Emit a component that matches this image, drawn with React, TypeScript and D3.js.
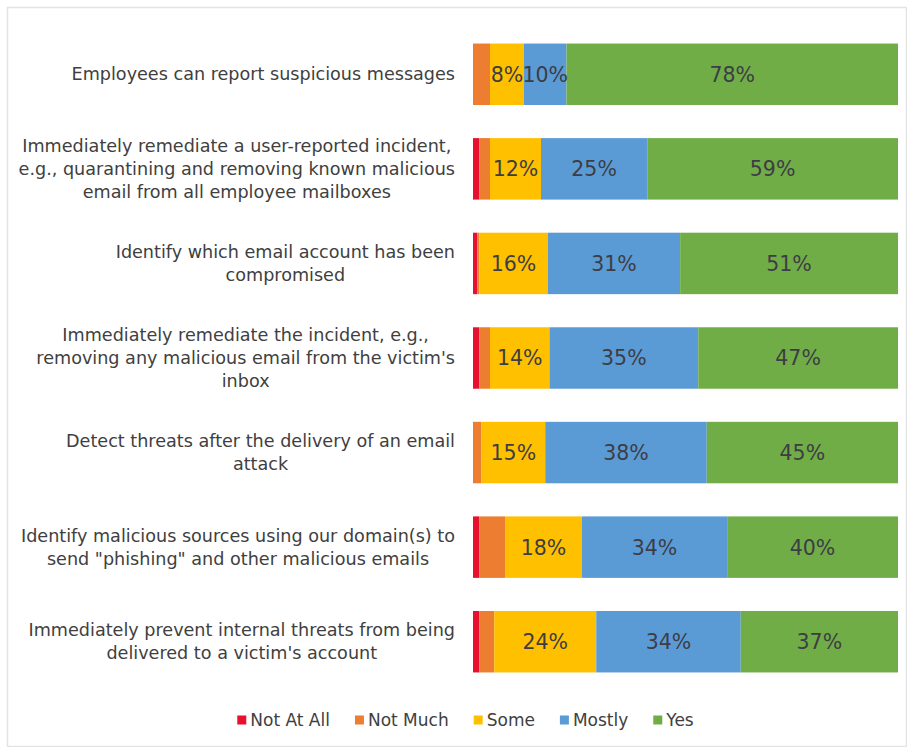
import React from "react";
import * as d3 from "d3";

const categories: string[][] = [
  ["Employees can report suspicious messages"],
  ["Immediately remediate a user-reported incident,", "e.g., quarantining and removing known malicious", "email from all employee mailboxes"],
  ["Identify which email account has been", "compromised"],
  ["Immediately remediate the incident, e.g.,", "removing any malicious email from the victim's", "inbox"],
  ["Detect threats after the delivery of an email", "attack"],
  ["Identify malicious sources using our domain(s) to", "send \"phishing\" and other malicious emails"],
  ["Immediately prevent internal threats from being", "delivered to a victim's account"],
];

const seriesNames = ["Not At All", "Not Much", "Some", "Mostly", "Yes"];
const notAtAll = [0, 1.5, 1, 1.5, 0, 1.5, 1.5];
const notMuch = [4, 2.5, 0.5, 2.5, 2, 6, 3.5];
const some = [8, 12, 16, 14, 15, 18, 24];
const mostly = [10, 25, 31, 35, 38, 34, 34];
const yes = [78, 59, 51, 47, 45, 40, 37];
const labelledSeries = ["Some", "Mostly", "Yes"];

const colors = ["#E8112D", "#ED7D31", "#FFC000", "#5B9BD5", "#70AD47"];

const W = 907;
const H = 747;
const FAMILY = "'DejaVu Sans', sans-serif";
const FS = 17.6;
const LEGEND_FS = 17;

function measure(text: string, size: number): number {
  const c = document.createElement("canvas").getContext("2d");
  if (!c) return text.length * size * 0.55;
  c.font = `${size}px 'DejaVu Sans', sans-serif`;
  return c.measureText(text).width;
}

export default function App() {
  const rows = categories.map((c, i) => ({
    key: String(i),
    "Not At All": notAtAll[i],
    "Not Much": notMuch[i],
    Some: some[i],
    Mostly: mostly[i],
    Yes: yes[i],
  }));
  const stacked = d3.stack<any>().keys(seriesNames).offset(d3.stackOffsetExpand)(rows);

  const x = d3.scaleLinear().domain([0, 1]).range([473, 898]);
  const y = d3.scaleBand().domain(rows.map((r) => r.key)).range([27, 689]).paddingInner(0.35).paddingOuter(0.175);

  const labelRight = 455;
  const lineH = 23;

  // legend layout
  const legendY = 720;
  const markerSize = 9;
  const legendItems: { name: string; color: string; x: number }[] = [];
  {
    const gap = 24;
    const widths = seriesNames.map((n) => markerSize + 5 + measure(n, LEGEND_FS));
    const total = widths.reduce((a, b) => a + b, 0) + gap * (widths.length - 1);
    let cx = 466 - total / 2;
    seriesNames.forEach((n, i) => {
      legendItems.push({ name: n, color: colors[i], x: cx });
      cx += widths[i] + gap;
    });
  }

  return (
    <div style={{ position: "absolute", left: 0, top: 0 }}>
      <svg width={W} height={H} style={{ display: "block", background: "#fff" }}>
        <rect x={7.5} y={7.5} width={W - 8} height={H - 8} fill="#fff" stroke="#e3e3e3" strokeWidth={1.5} />
        {categories.map((lines, i) => {
          const cy = (y(String(i)) as number) + y.bandwidth() / 2;
          const maxW = Math.max(...lines.map((l) => measure(l, FS)));
          const cx = labelRight - maxW / 2;
          const top = cy - ((lines.length - 1) * lineH) / 2;
          return (
            <text key={i} x={cx} textAnchor="middle" fontFamily={FAMILY} fontSize={FS} fill="#404040">
              {lines.map((l, j) => (
                <tspan key={j} x={cx} y={top + j * lineH} dy="0.35em">
                  {l}
                </tspan>
              ))}
            </text>
          );
        })}
        {stacked.map((s, si) => (
          <g key={s.key} fill={colors[si]}>
            {s.map((d, i) => (
              <rect
                key={i}
                x={x(d[0])}
                y={y(String(i))}
                width={Math.max(0, x(d[1]) - x(d[0]))}
                height={y.bandwidth()}
              />
            ))}
          </g>
        ))}
        {stacked
          .filter((s) => labelledSeries.includes(s.key))
          .map((s) => (
            <g key={"l" + s.key}>
              {s.map((d, i) => {
                const v = (d.data as any)[s.key] as number;
                return (
                  <text
                    key={i}
                    x={(x(d[0]) + x(d[1])) / 2}
                    y={(y(String(i)) as number) + y.bandwidth() / 2}
                    dy="0.36em"
                    textAnchor="middle"
                    fontFamily={FAMILY}
                    fontSize={20.5}
                    fill="#3d3d45"
                  >
                    {`${Math.round(v)}%`}
                  </text>
                );
              })}
            </g>
          ))}
        {legendItems.map((it) => (
          <g key={it.name}>
            <rect x={it.x} y={legendY - markerSize / 2} width={markerSize} height={markerSize} fill={it.color} />
            <text x={it.x + markerSize + 4} y={legendY} dy="0.35em" fontFamily={FAMILY} fontSize={LEGEND_FS} fill="#404040">
              {it.name}
            </text>
          </g>
        ))}
      </svg>
    </div>
  );
}
